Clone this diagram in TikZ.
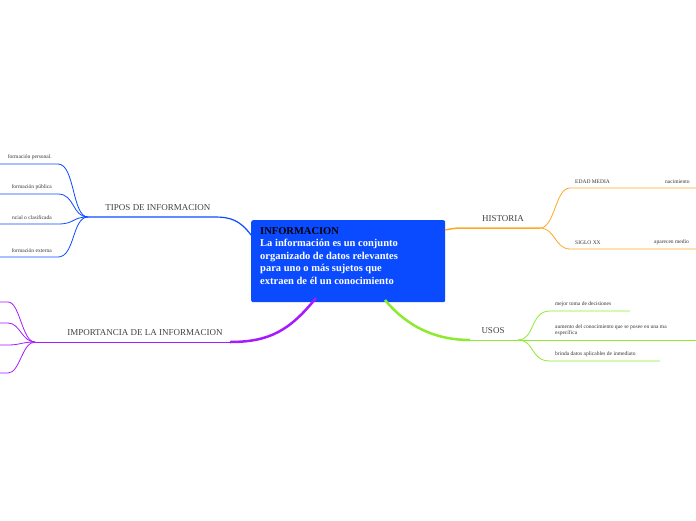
\documentclass[tikz,border=0pt]{standalone}
\usepackage{fontspec}
\setmainfont{Liberation Serif}
\begin{document}
\begin{tikzpicture}[x=1pt,y=-1pt,
  br/.style={line width=1pt},
  lab/.style={font=\fontsize{9}{10}\selectfont,text=black!75,inner sep=0pt},
  sm/.style={font=\fontsize{5.5}{6.5}\selectfont,inner sep=0pt,text=black!80}]
\useasboundingbox (0,0) rectangle (696,520);
\definecolor{cblue}{HTML}{0A4BFF}
\definecolor{corange}{HTML}{FFA726}
\definecolor{cpurple}{HTML}{A61AFF}
\definecolor{cgreen}{HTML}{8CEB2E}
% central
\node[fill=cblue,rounded corners=2pt,minimum width=194pt,minimum height=82pt,anchor=north west] (c) at (251,220) {};
\node[anchor=north west,align=left,font=\bfseries\fontsize{10.5}{12.5}\selectfont,text=white,inner sep=0pt] (ct) at (260,227) {\textcolor{black}{INFORMACION}\\La información es un conjunto\\organizado de datos relevantes\\para uno o más sujetos que\\extraen de él un conocimiento};
% TIPOS
\coordinate (tf) at (88,217);
\draw[cblue,line width=1.2pt] (251,235) .. controls (240,220) and (230,217) .. (215,217) -- (tf);
\node[lab,anchor=south] (tl) at (158,211) {TIPOS DE INFORMACION};
\foreach \y/\t in {164/formación personal., 194/formación pública, 224/ncial o clasificada, 257/formación externa}{
  \draw[cblue,line width=0.8pt] (tf) .. controls (72,217) and (75,\y) .. (58,\y) -- (0,\y);
  \node[sm,anchor=south east] at (52,\y-4) {\t};
}
% IMPORTANCIA
\coordinate (pf) at (35,342);
\draw[cpurple,line width=2.5pt] (316,298) .. controls (290,330) and (270,342) .. (230,342);
\draw[cpurple,line width=1pt] (230,342) -- (pf);
\node[lab,anchor=south] (pl) at (145,336) {IMPORTANCIA DE LA INFORMACION};
\foreach \y in {302,323,345,373}{
  \draw[cpurple,line width=0.8pt] (pf) .. controls (22,342) and (20,\y) .. (8,\y) -- (0,\y);
}
% HISTORIA
\coordinate (hf) at (540,228);
\draw[corange,line width=1.5pt] (445,230) .. controls (455,228) .. (470,228) -- (hf);
\node[lab,anchor=south] (hl) at (503,222) {HISTORIA};
\draw[corange,line width=0.8pt] (hf) .. controls (555,228) and (555,188) .. (570,188) -- (696,188);
\draw[corange,line width=0.8pt] (hf) .. controls (555,228) and (555,249) .. (570,249) -- (696,249);
\node[sm,anchor=south west] at (575,184) {EDAD MEDIA};
\node[sm,anchor=south west] at (665,184) {nacimiento};
\node[sm,anchor=south west] at (575,245) {SIGLO XX};
\node[sm,anchor=south west] at (654,245) {aparecen medio};
% USOS
\coordinate (uf) at (518,340);
\draw[cgreen,line width=2.5pt] (385,300) .. controls (410,330) and (440,340) .. (470,340);
\draw[cgreen,line width=1pt] (470,340) -- (uf);
\node[lab,anchor=south] (ul) at (493,334) {USOS};
\draw[cgreen,line width=0.8pt] (uf) .. controls (535,340) and (530,311) .. (550,311) -- (630,311);
\draw[cgreen,line width=0.8pt] (uf) -- (696,340);
\draw[cgreen,line width=0.8pt] (uf) .. controls (535,340) and (530,361) .. (550,361) -- (660,361);
\node[sm,anchor=south west] at (555,307) {mejor toma de decisiones};
\node[sm,anchor=south west,align=left] at (555,336) {aumento del conocimiento que se posee en una ma\\específica};
\node[sm,anchor=south west] at (555,357) {brinda datos aplicables de inmediato};
\end{tikzpicture}
\end{document}
